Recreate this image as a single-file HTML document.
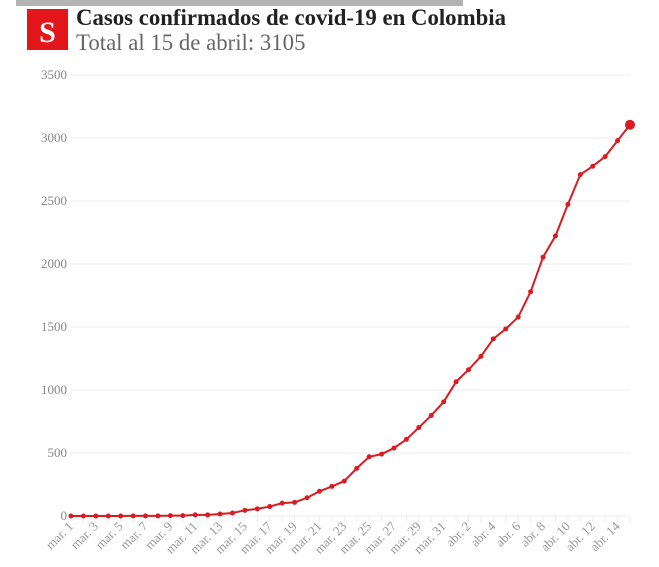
<!DOCTYPE html>
<html><head><meta charset="utf-8"><style>
body{margin:0;background:#fff;width:659px;height:562px;overflow:hidden;font-family:"Liberation Serif",serif}
</style></head><body>
<svg width="659" height="562" xmlns="http://www.w3.org/2000/svg">
<rect x="16" y="0" width="447" height="6" fill="#b3b3b3"/>
<rect x="27" y="9" width="41" height="41" fill="#e3161c"/>
<text x="47.5" y="42" text-anchor="middle" font-family="Liberation Serif,serif" font-weight="bold" font-size="30" fill="#fff">S</text>
<text x="76" y="25" font-family="Liberation Serif,serif" font-weight="bold" font-size="22.8" fill="#222">Casos confirmados de covid-19 en Colombia</text>
<text x="76" y="50" font-family="Liberation Serif,serif" font-size="22.8" fill="#666">Total al 15 de abril: 3105</text>
<g id="grid" stroke="#ececec" stroke-width="1"></g>
<g id="yl" font-family="Liberation Serif,serif" font-size="13" fill="#888" text-anchor="end"></g>
<g id="xl" font-family="Liberation Serif,serif" font-size="13" fill="#999"></g>
<polyline id="ln" fill="none" stroke="#d91c22" stroke-width="2"/>
<g id="pts" fill="#d91c22"></g>
</svg>
<script>
var d=[0,0,0,0,0,1,1,1,3,3,9,9,16,24,45,57,75,102,108,145,196,235,277,378,470,491,539,608,702,798,906,1065,1161,1267,1406,1485,1579,1780,2054,2223,2473,2709,2776,2852,2979,3105];
var ns="http://www.w3.org/2000/svg";
function el(t,a,p,txt){var e=document.createElementNS(ns,t);for(var k in a)e.setAttribute(k,a[k]);if(txt!=null)e.textContent=txt;document.getElementById(p).appendChild(e);return e;}
var x0=71,dx=(630-71)/45,y0=516,sy=441/3500;
for(var v=0;v<=3500;v+=500){var y=y0-v*sy;el('line',{x1:70,x2:630,y1:y,y2:y},'grid');el('text',{x:67,y:y+4},'yl',v);}
for(var i=0;i<46;i++){var x=x0+i*dx;el('line',{x1:x,x2:x,y1:516,y2:522},'grid');}
var pts=[];
for(var i=0;i<46;i++){var x=x0+i*dx,y=y0-d[i]*sy;pts.push(x+','+y);el('circle',{cx:x,cy:y,r:i==45?5:2.5},'pts');
 if(i%2==0){var lab=i<31?'mar. '+(i+1):'abr. '+(i-30);el('text',{x:x+3,y:527,'text-anchor':'end',transform:'rotate(-45 '+(x+3)+' 527)'},'xl',lab);}}
document.getElementById('ln').setAttribute('points',pts.join(' '));
</script>
</body></html>
